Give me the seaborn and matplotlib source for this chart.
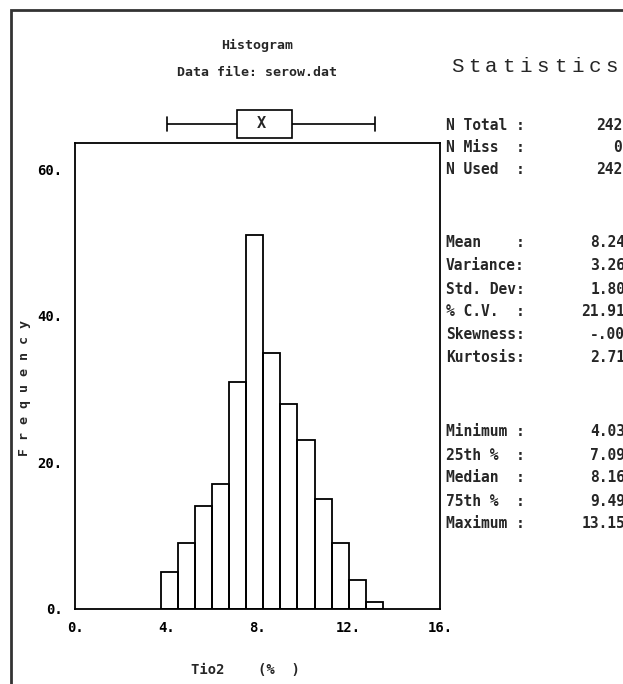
import numpy as np
import matplotlib
matplotlib.use("Agg")
import matplotlib.pyplot as plt
from matplotlib.patches import Rectangle
import seaborn as sns

# --- data ---
bin_edges = [3.75, 4.5, 5.25, 6.0, 6.75, 7.5, 8.25, 9.0, 9.75, 10.5, 11.25, 12.0, 12.75, 13.5]
counts = [5, 9, 14, 17, 31, 51, 35, 28, 23, 15, 9, 4, 1]
box_summary = [4.030, 7.095, 8.168, 9.495, 13.150]  # min, q1, median, q3, max

x_ticks = [0, 4, 8, 12, 16]
x_tick_labels = ["0.", "4.", "8.", "12.", "16."]
y_ticks = [0, 20, 40, 60]
y_tick_labels = ["0.", "20.", "40.", "60."]

stat_labels = ["N Total :", "N Miss  :", "N Used  :",
               "Mean    :", "Variance:", "Std. Dev:", "% C.V.  :", "Skewness:", "Kurtosis:",
               "Minimum :", "25th %  :", "Median  :", "75th %  :", "Maximum :"]
stat_values = ["242", "0", "242",
               "8.247", "3.265", "1.807", "21.911", "-.003", "2.717",
               "4.030", "7.095", "8.168", "9.495", "13.150"]
stat_rows_px = [125, 148, 170, 242, 265, 289, 312, 335, 358, 432, 455, 478, 501, 524]
title_letters = "Statistics"

W, H = 623, 684
sns.set_style("white")
plt.rcParams['font.family'] = ['DejaVu Sans Mono', 'DejaVu Sans']

fig = plt.figure(figsize=(W / 100, H / 100), dpi=100)

def fx(px):
    return px / W

def fy(py):
    return 1 - py / H

# main histogram axes: x 75..440 px, y 143..609 px
ax = fig.add_axes([fx(75), fy(609), fx(440) - fx(75), fy(143) - fy(609)])
mids = [(a + b) / 2 for a, b in zip(bin_edges[:-1], bin_edges[1:])]
sns.histplot(x=mids, weights=counts, bins=bin_edges, fill=False, element="bars",
             color="black", linewidth=1.3, ax=ax)
ax.set_xlim(0, 16)
ax.set_ylim(0, 63.6)
ax.set_xticks(x_ticks)
ax.set_xticklabels(x_tick_labels)
ax.set_yticks(y_ticks)
ax.set_yticklabels(y_tick_labels)
ax.tick_params(direction="out", length=5, width=1.2, colors="black", labelsize=10, pad=4)
for lab in ax.get_xticklabels() + ax.get_yticklabels():
    lab.set_fontweight("bold")
for s in ax.spines.values():
    s.set_visible(True)
    s.set_color("black")
    s.set_linewidth(1.3)
    s.set_linestyle((0, (7, 1)))

ax.set_xlabel("Tio2    (%  )", fontsize=10, fontweight="bold")
ax.xaxis.set_label_coords((245 - 75) / 365, (609 - 663) / 466)
ax.set_ylabel("F r e q u e n c y", fontsize=9.5, fontweight="bold")
ax.yaxis.set_label_coords((31 - 75) / 365, (609 - 388) / 466)

# box plot above the histogram
axb = fig.add_axes([fx(75), fy(140), fx(440) - fx(75), fy(108) - fy(140)])
sns.boxplot(x=box_summary, whis=np.inf, width=0.85, color="white", linecolor="black",
            linewidth=1.2, showcaps=True, medianprops={"visible": False}, ax=axb)
axb.text(box_summary[2], 0, "X", ha="center", va="center", fontsize=11, fontweight="bold")
axb.set_xlim(0, 16)
axb.axis("off")

# titles
fig.text(fx(257), fy(45), "Histogram", ha="center", va="center", fontsize=9.5, fontweight="bold")
fig.text(fx(257), fy(72), "Data file: serow.dat", ha="center", va="center", fontsize=9.5,
         fontweight="bold")
for i, ch in enumerate(title_letters):
    fig.text(fx(457 + i * 17.2), fy(66), ch, ha="center", va="center", fontsize=15,
             family="Liberation Mono")

# statistics column
for lab, val, row in zip(stat_labels, stat_values, stat_rows_px):
    fig.text(fx(446), fy(row), lab, ha="left", va="center", fontsize=10.5, fontweight="bold")
    right = 622 if "." not in val else 634
    fig.text(fx(right), fy(row), val, ha="right", va="center", fontsize=10.5, fontweight="bold")

# outer frame
fig.add_artist(Rectangle((fx(11), fy(720)), fx(700), fy(10) - fy(720), transform=fig.transFigure,
                         fill=False, edgecolor="#333333", linewidth=2))

fig.savefig("out.png", dpi=100)
